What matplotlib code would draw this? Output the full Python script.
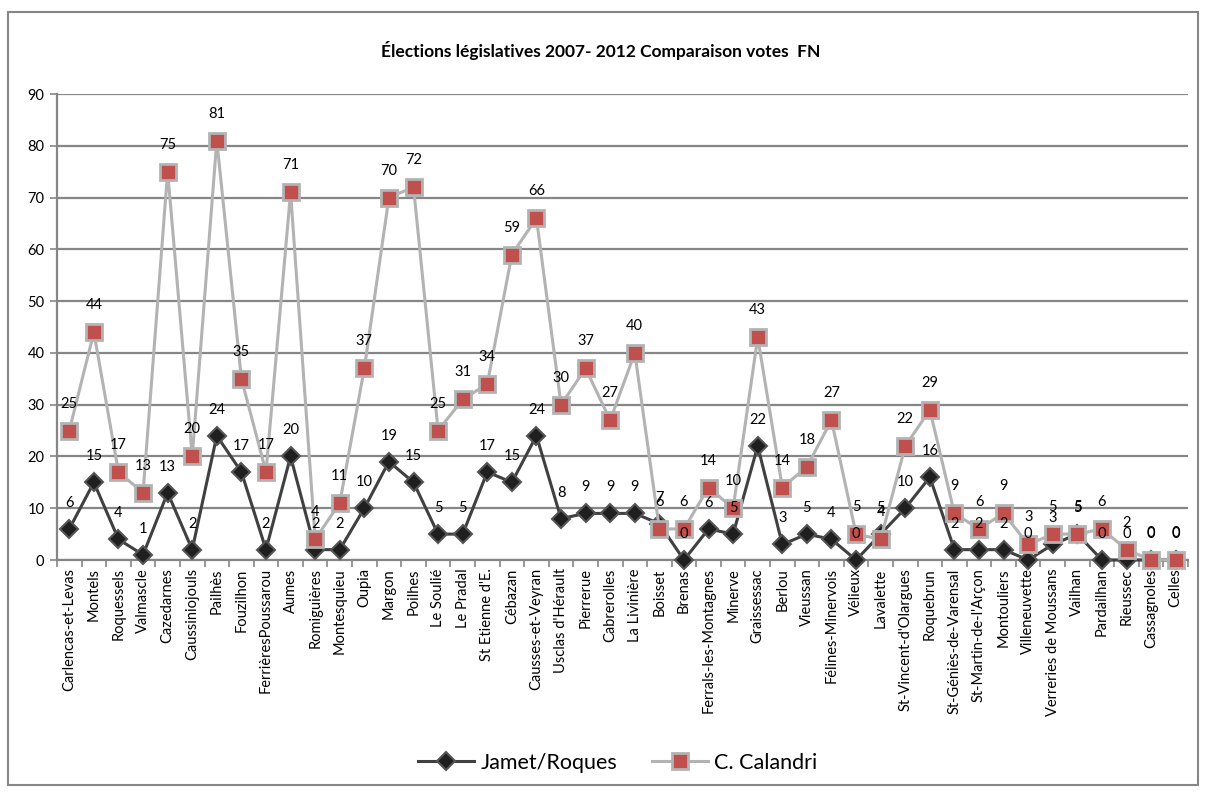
import matplotlib
matplotlib.use("Agg")
import matplotlib.pyplot as plt
from matplotlib.patches import Rectangle
from matplotlib.lines import Line2D

communes = [
    "Carlencas-et-Levas", "Montels", "Roquessels", "Valmascle", "Cazedarnes",
    "Caussiniojouls", "Pailhès", "Fouzilhon", "FerrièresPoussarou", "Aumes",
    "Romiguières", "Montesquieu", "Oupia", "Margon", "Poilhes", "Le Soulié",
    "Le Pradal", "St Etienne d'E.", "Cébazan", "Causses-et-Veyran",
    "Usclas d'Hérault", "Pierrerue", "Cabrerolles", "La Livinière", "Boisset",
    "Brenas", "Ferrals-les-Montagnes", "Minerve", "Graissessac", "Berlou",
    "Vieussan", "Félines-Minervois", "Vélieux", "Lavalette",
    "St-Vincent-d'Olargues", "Roquebrun", "St-Géniès-de-Varensal",
    "St-Martin-de-l'Arçon", "Montouliers", "Villeneuvette",
    "Verreries de Moussans", "Vailhan", "Pardailhan", "Rieussec",
    "Cassagnoles", "Celles",
]
jamet_roques = [6, 15, 4, 1, 13, 2, 24, 17, 2, 20, 2, 2, 10, 19, 15, 5, 5, 17,
                15, 24, 8, 9, 9, 9, 7, 0, 6, 5, 22, 3, 5, 4, 0, 5, 10, 16, 2, 2,
                2, 0, 3, 5, 0, 0, 0, 0]
calandri = [25, 44, 17, 13, 75, 20, 81, 35, 17, 71, 4, 11, 37, 70, 72, 25, 31,
            34, 59, 66, 30, 37, 27, 40, 6, 6, 14, 10, 43, 14, 18, 27, 5, 4, 22,
            29, 9, 6, 9, 3, 5, 5, 6, 2, 0, 0]
series_names = ["Jamet/Roques", "C. Calandri"]
title = "Élections législatives 2007- 2012 Comparaison votes  FN"

plt.rcParams["font.family"] = ["Lato", "DejaVu Sans"]

W, H = 1205, 793
fig = plt.figure(figsize=(W / 100, H / 100), dpi=100)
fig.patch.set_facecolor("white")

# chart frame
fig.patches.append(Rectangle((8 / W, 1 - 785 / H), (1198 - 8) / W, (785 - 12) / H,
                             transform=fig.transFigure, fill=False,
                             edgecolor="#868686", linewidth=1.5))

ax = fig.add_axes([57 / W, 1 - 560 / H, (1188 - 57) / W, (560 - 94) / H])
x = list(range(len(communes)))

grid_col = "#868686"
ax.set_xlim(-0.5, len(communes) - 0.5)
ax.set_ylim(0, 90)
ax.set_yticks(range(0, 91, 10))
ax.yaxis.grid(True, color=grid_col, linewidth=1.6)
ax.set_axisbelow(True)
for s in ["top", "right"]:
    ax.spines[s].set_visible(False)
for s in ["left", "bottom"]:
    ax.spines[s].set_color(grid_col)
    ax.spines[s].set_linewidth(1.6)

ax.set_xticks(x)
ax.set_xticklabels(communes, rotation=90, fontsize=10.5)
ax.tick_params(axis="x", which="major", length=0, pad=6)
ax.set_xticks([i - 0.5 for i in range(len(communes) + 1)], minor=True)
ax.tick_params(axis="x", which="minor", length=5, color=grid_col, width=1.2)
ax.tick_params(axis="y", length=5, color=grid_col, width=1.2, labelsize=10.5, pad=4)

ax.plot(x, jamet_roques, color="#404040", linewidth=2.2, marker="D",
        markersize=9, markerfacecolor="#1f1f1f", markeredgecolor="#555555",
        markeredgewidth=1.5, zorder=3, clip_on=False)
ax.plot(x, calandri, color="#b3b3b3", linewidth=2.2, marker="s",
        markersize=11, markerfacecolor="#c0504d", markeredgecolor="#b3b3b3",
        markeredgewidth=2, zorder=4, clip_on=False)

for xi, v in zip(x, jamet_roques):
    ax.annotate(str(v), (xi, v), xytext=(0, 26), textcoords="offset pixels",
                ha="center", va="center", fontsize=10.5, zorder=5)
for xi, v in zip(x, calandri):
    ax.annotate(str(v), (xi, v), xytext=(0, 27), textcoords="offset pixels",
                ha="center", va="center", fontsize=10.5, zorder=5)

fig.text(601 / W, 1 - 50 / H, title, ha="center", va="center",
         fontsize=12.5, fontweight="bold")

handles = [
    Line2D([], [], color="#404040", linewidth=2.2, marker="D", markersize=9,
           markerfacecolor="#1f1f1f", markeredgecolor="#555555", markeredgewidth=1.5),
    Line2D([], [], color="#b3b3b3", linewidth=2.2, marker="s", markersize=11,
           markerfacecolor="#c0504d", markeredgecolor="#b3b3b3", markeredgewidth=2),
]
fig.legend(handles, series_names, loc="center", bbox_to_anchor=(618 / W, 1 - 763 / H),
           ncol=2, frameon=False, fontsize=15.5, handlelength=2.6, columnspacing=1.6,
           handletextpad=0.3)

fig.savefig("out.png", dpi=100)
